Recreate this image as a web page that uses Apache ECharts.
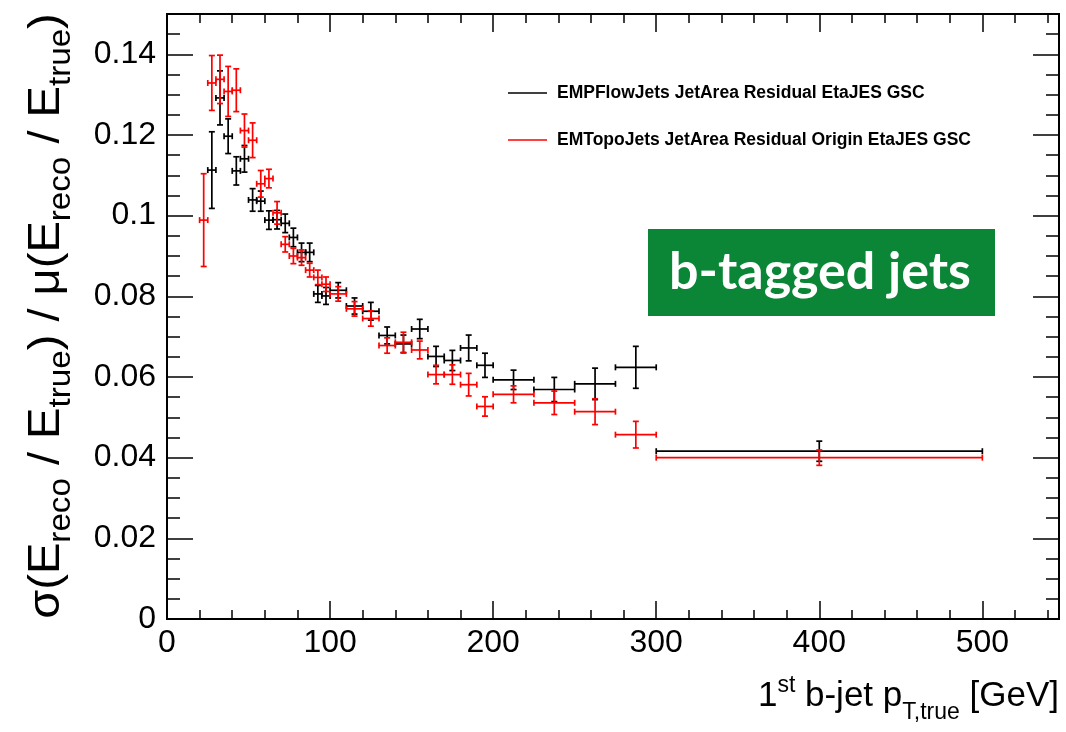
<!DOCTYPE html>
<html><head><meta charset="utf-8">
<script src="https://cdn.jsdelivr.net/npm/echarts@6/dist/echarts.min.js"></script>
<style>html,body{margin:0;padding:0;background:#fff}#c{width:1066px;height:732px}</style>
</head><body><div id="c"></div>
<script>
// bin edges in GeV (31 bins)
const binEdges = [20,25,30,35,40,45,50,55,60,65,70,75,80,85,90,95,100,110,120,130,140,150,160,170,180,190,200,225,250,275,300,500];
// EMPFlowJets JetArea Residual EtaJES GSC (black)
const pflowValues = [null,0.1113,0.1292,0.1197,0.1111,0.1141,0.1039,0.1036,0.0989,0.0990,0.0981,0.0946,0.0909,0.0909,0.0806,0.0801,0.0815,0.0776,0.0763,0.0703,0.0682,0.0719,0.0651,0.0641,0.0672,0.0629,0.0593,0.0569,0.0583,0.0624,0.0416];
const pflowErrors = [null,0.0095,0.0067,0.0043,0.0035,0.0033,0.0028,0.0025,0.0023,0.0023,0.0023,0.0023,0.0023,0.0023,0.0021,0.0021,0.0019,0.0020,0.0022,0.0021,0.0022,0.0024,0.0025,0.0025,0.0032,0.0030,0.0024,0.0030,0.0039,0.0052,0.0025];
// EMTopoJets JetArea Residual Origin EtaJES GSC (red)
const topoValues = [0.0989,0.1329,0.1338,0.1308,0.1311,0.1211,0.1187,0.1079,0.1092,0.1007,0.0929,0.0900,0.0896,0.0865,0.0847,0.0830,0.0806,0.0769,0.0745,0.0678,0.0686,0.0667,0.0606,0.0606,0.0581,0.0527,0.0557,0.0536,0.0514,0.0457,0.0400];
const topoErrors = [0.0115,0.0068,0.0060,0.0062,0.0053,0.0041,0.0043,0.0033,0.0023,0.0028,0.0019,0.0019,0.0019,0.0017,0.0018,0.0018,0.0018,0.0018,0.0019,0.0019,0.0025,0.0022,0.0023,0.0024,0.0028,0.0024,0.0021,0.0029,0.0032,0.0033,0.0019];
const seriesNames = ['EMPFlowJets JetArea Residual EtaJES GSC','EMTopoJets JetArea Residual Origin EtaJES GSC'];

function toData(vals, errs){
  const out=[];
  vals.forEach((v,i)=>{ if(v!=null) out.push([binEdges[i], binEdges[i+1], v, errs[i]]); });
  return out;
}
function renderErr(color){
  return function(params, api){
    const xl=api.value(0), xh=api.value(1), y=api.value(2), e=api.value(3);
    const xm=(xl+xh)/2;
    const pL=api.coord([xl,y]), pR=api.coord([xh,y]), pT=api.coord([xm,y+e]), pB=api.coord([xm,y-e]);
    const c=3;
    const st={stroke:color,lineWidth:1.7};
    const L=[[pL[0],pL[1],pR[0],pR[1]],[pT[0],pT[1],pB[0],pB[1]],
      [pL[0],pL[1]-c,pL[0],pL[1]+c],[pR[0],pR[1]-c,pR[0],pR[1]+c],
      [pT[0]-c,pT[1],pT[0]+c,pT[1]],[pB[0]-c,pB[1],pB[0]+c,pB[1]]];
    return {type:'group',children:L.map(l=>({type:'line',shape:{x1:l[0],y1:l[1],x2:l[2],y2:l[3]},style:st}))};
  };
}
const FONT='"Liberation Sans", Arial, Helvetica, sans-serif';
const XMAX=547, YMAX=0.15;
function xAx(pos, interval, len, labels){
  return {type:'value',position:pos,min:0,max:XMAX,interval:interval,
    axisLine:{show:true,onZero:false,lineStyle:{color:'#000',width:2}},
    axisTick:{show:true,inside:true,length:len,lineStyle:{color:'#000',width:1.5}},
    axisLabel:{show:labels,fontSize:32,color:'#000',fontFamily:FONT,margin:8,showMaxLabel:false},
    splitLine:{show:false}};
}
function yAx(pos, interval, len, labels){
  return {type:'value',position:pos,min:0,max:YMAX,interval:interval,
    axisLine:{show:true,onZero:false,lineStyle:{color:'#000',width:2}},
    axisTick:{show:true,inside:true,length:len,lineStyle:{color:'#000',width:1.5}},
    axisLabel:{show:labels,fontSize:32,color:'#000',fontFamily:FONT,margin:11,showMaxLabel:false},
    splitLine:{show:false}};
}
const chart=echarts.init(document.getElementById('c'),null,{renderer:'canvas'});
chart.setOption({
  animation:false,
  backgroundColor:'#fff',
  grid:{left:167,top:14,right:7,bottom:113,containLabel:false},
  xAxis:[xAx('bottom',100,18,true),xAx('bottom',20,9,false),xAx('top',100,18,false),xAx('top',20,9,false)],
  yAxis:[yAx('left',0.02,26,true),yAx('left',0.005,13,false),yAx('right',0.02,26,false),yAx('right',0.005,13,false)],
  series:[
    {name:seriesNames[0],type:'custom',xAxisIndex:0,yAxisIndex:0,renderItem:renderErr('#000'),data:toData(pflowValues,pflowErrors),encode:{x:[0,1],y:2},clip:true},
    {name:seriesNames[1],type:'custom',xAxisIndex:0,yAxisIndex:0,renderItem:renderErr('#ff0000'),data:toData(topoValues,topoErrors),encode:{x:[0,1],y:2},clip:true}
  ],
  graphic:[
    {type:'line',shape:{x1:508,y1:93,x2:547,y2:93},style:{stroke:'#000',lineWidth:1.7}},
    {type:'text',x:557,y:93,style:{text:seriesNames[0],fontFamily:FONT,fontWeight:'bold',fontSize:17.5,fill:'#000',verticalAlign:'middle'}},
    {type:'line',shape:{x1:508,y1:140,x2:547,y2:140},style:{stroke:'#ff0000',lineWidth:1.7}},
    {type:'text',x:557,y:140,style:{text:seriesNames[1],fontFamily:FONT,fontWeight:'bold',fontSize:17.5,fill:'#000',verticalAlign:'middle'}},
    {type:'rect',shape:{x:648,y:229,width:347,height:87},style:{fill:'#0a8636'}},
    {type:'text',x:820,y:272,style:{text:'b-tagged jets',fontFamily:'Lato, "Open Sans", sans-serif',fontWeight:'bold',fontSize:52,fill:'#fff',align:'center',verticalAlign:'middle'}},
    {type:'text',x:1059,y:696,style:{
      text:'{n|1}{sup|st}{n| b-jet p}{sub|T,true}{n| [GeV]}',align:'right',verticalAlign:'middle',
      rich:{n:{fontSize:35,fontFamily:FONT,color:'#000'},
            sup:{fontSize:23,fontFamily:FONT,color:'#000',padding:[0,0,20,0]},
            sub:{fontSize:23,fontFamily:FONT,color:'#000',padding:[34,0,0,0]}}}},
    {type:'text',x:47,y:316,rotation:Math.PI/2,scaleX:1.07,style:{
      text:'{n|σ(E}{sub|reco}{n| / E}{sub|true}{n|) / μ(E}{sub|reco}{n| / E}{sub|true}{n|)}',align:'center',verticalAlign:'middle',
      rich:{n:{fontSize:44,fontFamily:FONT,color:'#000'},
            sub:{fontSize:31,fontFamily:FONT,color:'#000',padding:[28,0,0,0]}}}}
  ]
});
</script></body></html>
